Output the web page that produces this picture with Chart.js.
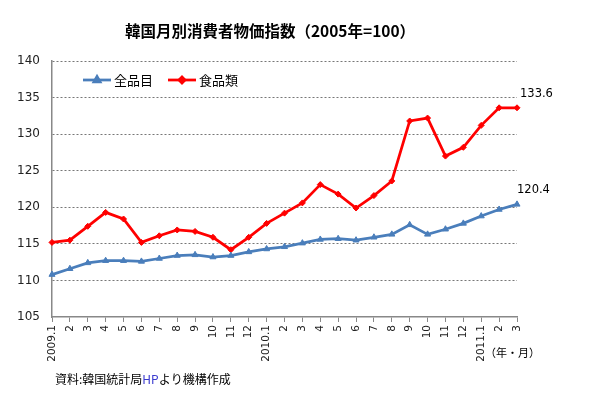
<!DOCTYPE html>
<html>
<head>
<meta charset="utf-8">
<script src="https://cdn.jsdelivr.net/npm/chart.js@4"></script>
<style>
  html, body { margin: 0; padding: 0; background: #fff; }
  #wrap { width: 591px; height: 393px; }
</style>
</head>
<body>
<div id="wrap"><canvas id="c" width="591" height="393"></canvas></div>
<script>
// 韓国月別消費者物価指数（2005年=100）
const months = ['2009.1','2','3','4','5','6','7','8','9','10','11','12',
                '2010.1','2','3','4','5','6','7','8','9','10','11','12',
                '2011.1','2','3'];
const zenhinmoku = [110.8,111.6,112.4,112.7,112.7,112.6,113.0,113.4,113.5,113.2,113.4,113.9,
                    114.3,114.6,115.1,115.6,115.7,115.5,115.9,116.3,117.6,116.3,117.0,117.8,
                    118.8,119.7,120.4];
const shokuhin = [115.2,115.5,117.4,119.3,118.4,115.2,116.1,116.9,116.7,115.9,114.2,115.9,
                  117.8,119.2,120.6,123.1,121.8,119.9,121.6,123.6,131.8,132.2,127.0,128.2,
                  131.2,133.6,133.6];
const yTicks = [105, 110, 115, 120, 125, 130, 135, 140];

const jp = '"Noto Sans CJK JP", "DejaVu Sans", sans-serif';

// タイトル・凡例・注記を描くプラグイン
const extras = {
    id: 'extras',
    afterDraw(chart) {
        const ctx = chart.ctx;
        ctx.save();
        ctx.fillStyle = '#000';
        ctx.textBaseline = 'middle';

        // タイトル
        ctx.font = 'bold 15.5px ' + jp;
        ctx.textAlign = 'center';
        ctx.fillText('韓国月別消費者物価指数（2005年=100）', 270, 31);

        // 凡例
        ctx.font = '13px ' + jp;
        ctx.textAlign = 'left';
        let lx = 83;
        const ly = 80;
        chart.data.datasets.forEach(ds => {
            ctx.strokeStyle = ds.borderColor;
            ctx.lineWidth = ds.borderWidth;
            ctx.beginPath();
            ctx.moveTo(lx, ly);
            ctx.lineTo(lx + 28, ly);
            ctx.stroke();
            ctx.fillStyle = ds.pointBackgroundColor;
            Chart.helpers.drawPoint(ctx, {
                pointStyle: ds.pointStyle, radius: ds.pointRadius,
                borderWidth: 1, rotation: 0
            }, lx + 14, ly);
            ctx.fill();
            ctx.fillStyle = '#000';
            ctx.fillText(ds.label, lx + 31, ly);
            lx += 85;
        });

        // 最終値の注記
        ctx.font = '11.5px "DejaVu Sans", sans-serif';
        chart.data.datasets.forEach((ds, i) => {
            const pts = chart.getDatasetMeta(i).data;
            const p = pts[pts.length - 1];
            const v = ds.data[ds.data.length - 1];
            ctx.fillText(v.toFixed(1), p.x + (i === 1 ? 3 : 0), p.y - 14);
        });

        // 単位・出所
        ctx.font = '11px ' + jp;
        ctx.fillText('（年・月）', 485, 353);
        ctx.font = '12px ' + jp;
        ctx.fillText('資料:韓国統計局', 55, 379);
        const w1 = ctx.measureText('資料:韓国統計局').width;
        ctx.fillStyle = '#3a3acf';
        ctx.fillText('HP', 55 + w1, 379);
        const w2 = ctx.measureText('HP').width;
        ctx.fillStyle = '#000';
        ctx.fillText('より機構作成', 55 + w1 + w2, 379);
        ctx.restore();
    }
};

new Chart(document.getElementById('c'), {
    type: 'line',
    data: {
        labels: months,
        datasets: [{
            label: '全品目',
            data: zenhinmoku,
            borderColor: '#4a7ebb',
            backgroundColor: '#4a7ebb',
            pointBackgroundColor: '#4a7ebb',
            pointBorderColor: '#4a7ebb',
            pointStyle: 'triangle',
            pointRadius: 3.5,
            pointBorderWidth: 1,
            borderWidth: 2.75,
            tension: 0
        }, {
            label: '食品類',
            data: shokuhin,
            borderColor: '#ff0000',
            backgroundColor: '#ff0000',
            pointBackgroundColor: '#ff0000',
            pointBorderColor: '#ff0000',
            pointStyle: 'rectRot',
            pointRadius: 3,
            pointBorderWidth: 1,
            borderWidth: 2.75,
            tension: 0
        }]
    },
    options: {
        responsive: false,
        animation: false,
        layout: { padding: { left: 0, right: 74, top: 61, bottom: 0 } },
        plugins: {
            legend: { display: false },
            tooltip: { enabled: false }
        },
        scales: {
            x: {
                afterFit: s => { s.height = 76; },
                grid: { drawOnChartArea: false, drawTicks: true, tickLength: 5, color: '#888' },
                border: { color: '#888', width: 1.5 },
                ticks: {
                    minRotation: 90, maxRotation: 90, autoSkip: false, padding: 3,
                    color: '#222', font: { size: 10.5, family: '"DejaVu Sans", sans-serif' }
                }
            },
            y: {
                min: 105, max: 140,
                afterFit: s => { s.width = 52; },
                afterBuildTicks: s => { s.ticks = yTicks.map(v => ({ value: v })); },
                grid: {
                    drawTicks: false,
                    color: c => c.tick.value === 105 ? 'rgba(0,0,0,0)' : '#777'
                },
                border: { color: '#888', width: 1.5, dash: [2, 2] },
                ticks: {
                    padding: 12, color: '#222',
                    font: { size: 12, family: '"DejaVu Sans", sans-serif' }
                }
            }
        }
    },
    plugins: [extras]
});
</script>
</body>
</html>
